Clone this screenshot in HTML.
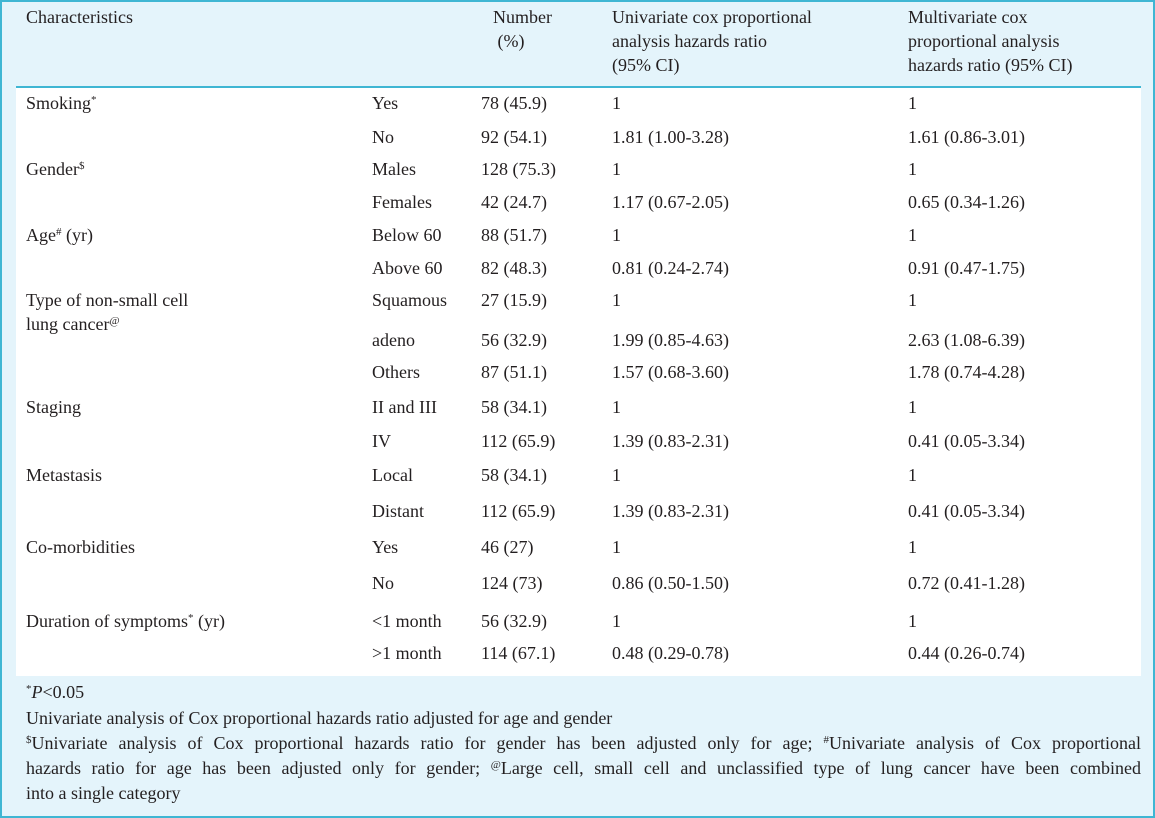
<!DOCTYPE html>
<html><head><meta charset="utf-8"><style>
html,body{margin:0;padding:0}
body{width:1155px;height:818px;position:relative;overflow:hidden;background:#fff;font-family:"Liberation Serif","Times New Roman",Times,"DejaVu Serif",serif;font-size:18px;color:#231f20}
#frame{position:absolute;left:0;top:0;width:1151px;height:814px;border:2px solid #3fb6d3;background:#e4f4fb}
#body{position:absolute;left:16px;top:88px;width:1125px;height:588px;background:#fff}
#hline{position:absolute;left:16px;top:86px;width:1125px;height:2px;background:#3fb6d3}
.t{position:absolute;line-height:24px;white-space:nowrap}
sup{font-size:11px;line-height:0;vertical-align:6px}
.fn{position:absolute;left:26px;width:1115px;line-height:25px;white-space:nowrap}
.j{text-align:justify;text-align-last:justify;white-space:normal}
</style></head><body>
<div id="frame"></div>
<div id="body"></div>
<div id="hline"></div>
<div>
<div class="t" style="left:26px;top:5px">Characteristics</div>
<div class="t" style="left:493px;top:5px">Number<br>&nbsp;(%)</div>
<div class="t" style="left:612px;top:5px">Univariate cox proportional<br>analysis hazards ratio<br>(95% CI)</div>
<div class="t" style="left:908px;top:5px">Multivariate cox<br>proportional analysis<br>hazards ratio (95% CI)</div>
</div>
<div id="rows"></div>
<div class="fn" style="top:680px"><sup>*</sup><i>P</i>&lt;0.05</div>
<div class="fn" style="top:706px">Univariate analysis of Cox proportional hazards ratio adjusted for age and gender</div>
<div>
<div class="fn j" style="top:731px"><sup>$</sup>Univariate analysis of Cox proportional hazards ratio for gender has been adjusted only for age; <sup>#</sup>Univariate analysis of Cox proportional</div>
<div class="fn j" style="top:756px">hazards ratio for age has been adjusted only for gender; <sup>@</sup>Large cell, small cell and unclassified type of lung cancer have been combined</div>
<div class="fn" style="top:781px">into a single category</div>
</div>
<script>
const rowsY=[103,137,169,202,235,268,300,340,372,407,441,475,511,547,583,621,653];
const rows=[
["Smoking<sup>*</sup>","Yes","78 (45.9)","1","1"],
["","No","92 (54.1)","1.81 (1.00-3.28)","1.61 (0.86-3.01)"],
["Gender<sup>$</sup>","Males","128 (75.3)","1","1"],
["","Females","42 (24.7)","1.17 (0.67-2.05)","0.65 (0.34-1.26)"],
["Age<sup>#</sup> (yr)","Below 60","88 (51.7)","1","1"],
["","Above 60","82 (48.3)","0.81 (0.24-2.74)","0.91 (0.47-1.75)"],
["Type of non-small cell<br>lung cancer<sup>@</sup>","Squamous","27 (15.9)","1","1"],
["","adeno","56 (32.9)","1.99 (0.85-4.63)","2.63 (1.08-6.39)"],
["","Others","87 (51.1)","1.57 (0.68-3.60)","1.78 (0.74-4.28)"],
["Staging","II and III","58 (34.1)","1","1"],
["","IV","112 (65.9)","1.39 (0.83-2.31)","0.41 (0.05-3.34)"],
["Metastasis","Local","58 (34.1)","1","1"],
["","Distant","112 (65.9)","1.39 (0.83-2.31)","0.41 (0.05-3.34)"],
["Co-morbidities","Yes","46 (27)","1","1"],
["","No","124 (73)","0.86 (0.50-1.50)","0.72 (0.41-1.28)"],
["Duration of symptoms<sup>*</sup> (yr)","&lt;1 month","56 (32.9)","1","1"],
["","&gt;1 month","114 (67.1)","0.48 (0.29-0.78)","0.44 (0.26-0.74)"]];
const colX=[26,372,481,612,908];
const colNames=['characteristic','category','number','univariate-hr','multivariate-hr'];
const host=document.getElementById('rows');
rows.forEach((r,i)=>{
  r.forEach((txt,j)=>{
    if(!txt) return;
    const d=document.createElement('div');
    d.className='t';
    d.style.left=colX[j]+'px';
    d.style.top=(rowsY[i]-12)+'px';
    d.innerHTML=txt;
    
    
    host.appendChild(d);
  });
});
</script>
</body></html>
